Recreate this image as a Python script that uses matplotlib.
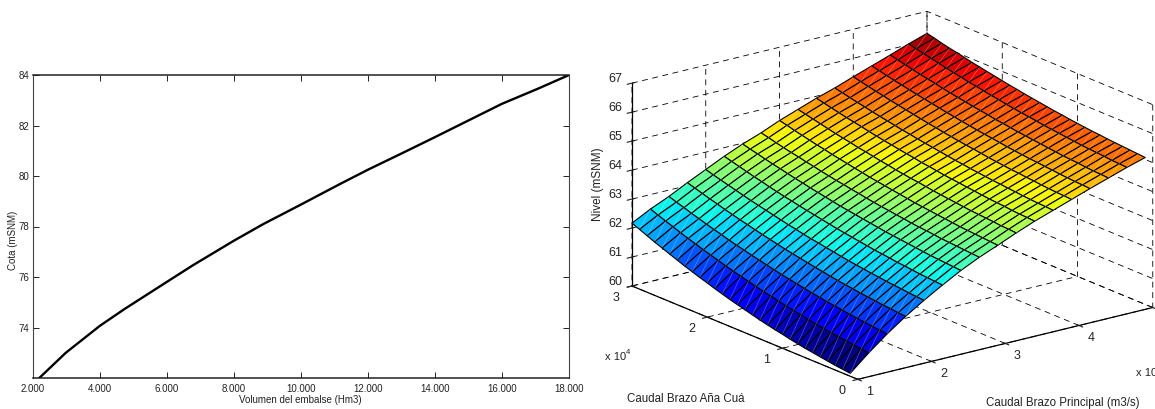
import numpy as np
import matplotlib
matplotlib.use("Agg")
import matplotlib.pyplot as plt
from mpl_toolkits.mplot3d import proj3d
from mpl_toolkits.mplot3d.art3d import Line3DCollection

# ---- left chart data
vol = [2180, 2980, 4000, 4730, 6000, 6780, 8000, 8880, 10000, 11160, 12000,
       13060, 14000, 14560, 16000, 17060, 18000]
cota = [71.99, 73.0, 74.07, 74.73, 75.81, 76.47, 77.44, 78.1, 78.87, 79.68, 80.25,
        80.93, 81.54, 81.91, 82.86, 83.45, 84.0]
vol_ticks = [2000, 4000, 6000, 8000, 10000, 12000, 14000, 16000, 18000]
vol_labels = ["2.000", "4.000", "6.000", "8.000", "10.000", "12.000", "14.000", "16.000", "18.000"]
cota_ticks = [74, 76, 78, 80, 82, 84]
cota_labels = ["74", "76", "78", "80", "82", "84"]

# ---- right chart data (one list per principal-branch flow, x 10^4 m3/s)
q_principal = [1.0, 1.25, 1.5, 1.75, 2.0, 2.25, 2.5, 2.75, 3.0, 3.25, 3.5, 3.75, 4.0, 4.25, 4.5, 4.75, 5.0]
q_anacua = [0.1, 0.2, 0.3, 0.4, 0.5, 0.6, 0.7, 0.8, 0.9, 1.0, 1.1, 1.2, 1.3, 1.4, 1.5,
            1.6, 1.7, 1.8, 1.9, 2.0, 2.1, 2.2, 2.3, 2.4, 2.5, 2.6, 2.7, 2.8, 2.9, 3.0]
z00 = [60.10,60.13,60.16,60.20,60.24,60.28,60.32,60.37,60.42,60.48,60.53,60.59,60.65,60.72,60.79,60.86,60.93,61.01,61.09,61.18,61.26,61.35,61.44,61.54,61.64,61.74,61.84,61.95,62.06,62.17]
z01 = [60.65,60.68,60.71,60.74,60.77,60.81,60.85,60.89,60.94,60.99,61.04,61.09,61.15,61.21,61.27,61.33,61.40,61.47,61.54,61.61,61.69,61.77,61.85,61.94,62.02,62.11,62.21,62.30,62.40,62.50]
z02 = [61.15,61.17,61.20,61.23,61.26,61.29,61.33,61.37,61.40,61.45,61.49,61.54,61.59,61.64,61.69,61.75,61.81,61.87,61.93,62.00,62.06,62.13,62.21,62.28,62.36,62.44,62.52,62.61,62.69,62.78]
z03 = [61.60,61.62,61.65,61.67,61.70,61.73,61.76,61.80,61.83,61.87,61.91,61.96,62.00,62.05,62.10,62.15,62.20,62.26,62.32,62.38,62.44,62.51,62.57,62.64,62.71,62.79,62.86,62.94,63.02,63.10]
z04 = [62.00,62.02,62.04,62.07,62.09,62.12,62.15,62.18,62.22,62.25,62.29,62.33,62.38,62.42,62.47,62.51,62.56,62.62,62.67,62.73,62.79,62.85,62.91,62.97,63.04,63.11,63.18,63.25,63.32,63.40]
z05 = [62.37,62.39,62.41,62.43,62.46,62.49,62.51,62.55,62.58,62.61,62.65,62.69,62.73,62.77,62.81,62.86,62.91,62.96,63.01,63.06,63.12,63.17,63.23,63.29,63.36,63.42,63.49,63.56,63.63,63.70]
z06 = [62.72,62.74,62.76,62.78,62.80,62.83,62.86,62.89,62.92,62.95,62.98,63.02,63.06,63.10,63.14,63.18,63.22,63.27,63.32,63.37,63.42,63.48,63.53,63.59,63.65,63.71,63.77,63.84,63.90,63.97]
z07 = [63.02,63.04,63.06,63.08,63.10,63.12,63.15,63.18,63.20,63.23,63.27,63.30,63.34,63.37,63.41,63.45,63.50,63.54,63.59,63.63,63.68,63.73,63.79,63.84,63.90,63.95,64.01,64.07,64.14,64.20]
z08 = [63.28,63.30,63.32,63.34,63.36,63.38,63.41,63.44,63.47,63.50,63.53,63.56,63.60,63.64,63.68,63.72,63.76,63.80,63.85,63.90,63.95,64.00,64.05,64.11,64.16,64.22,64.28,64.34,64.41,64.47]
z09 = [63.55,63.57,63.58,63.61,63.63,63.65,63.67,63.70,63.73,63.76,63.79,63.82,63.86,63.90,63.93,63.97,64.01,64.06,64.10,64.15,64.20,64.24,64.30,64.35,64.40,64.46,64.52,64.58,64.64,64.70]
z10 = [63.80,63.82,63.83,63.85,63.88,63.90,63.92,63.95,63.98,64.01,64.04,64.07,64.10,64.14,64.18,64.21,64.26,64.30,64.34,64.39,64.43,64.48,64.53,64.59,64.64,64.69,64.75,64.81,64.87,64.93]
z11 = [64.02,64.04,64.05,64.07,64.09,64.12,64.14,64.17,64.19,64.22,64.25,64.28,64.32,64.35,64.39,64.43,64.47,64.51,64.55,64.60,64.64,64.69,64.74,64.79,64.84,64.90,64.95,65.01,65.07,65.13]
z12 = [64.24,64.26,64.27,64.29,64.31,64.34,64.36,64.39,64.41,64.44,64.47,64.50,64.54,64.58,64.61,64.65,64.69,64.73,64.78,64.82,64.87,64.92,64.97,65.02,65.07,65.13,65.18,65.24,65.30,65.36]
z13 = [64.46,64.48,64.49,64.51,64.53,64.56,64.58,64.61,64.63,64.66,64.69,64.72,64.76,64.80,64.83,64.87,64.91,64.95,65.00,65.04,65.09,65.14,65.19,65.24,65.29,65.35,65.40,65.46,65.52,65.58]
z14 = [64.67,64.69,64.70,64.72,64.75,64.77,64.79,64.82,64.85,64.88,64.91,64.94,64.97,65.01,65.05,65.08,65.13,65.17,65.21,65.26,65.30,65.35,65.40,65.46,65.51,65.56,65.62,65.68,65.74,65.80]
z15 = [64.88,64.90,64.91,64.94,64.96,64.98,65.00,65.03,65.06,65.09,65.12,65.15,65.19,65.23,65.26,65.30,65.34,65.39,65.43,65.48,65.53,65.57,65.63,65.68,65.73,65.79,65.85,65.91,65.97,66.03]
z16 = [65.07,65.09,65.11,65.13,65.15,65.17,65.20,65.22,65.25,65.28,65.31,65.35,65.38,65.42,65.46,65.50,65.54,65.59,65.63,65.68,65.73,65.78,65.83,65.88,65.94,66.00,66.05,66.11,66.18,66.24]
nivel = [z00, z01, z02, z03, z04, z05, z06, z07, z08, z09, z10, z11, z12, z13, z14, z15, z16]
x_ticks = [1, 2, 3, 4, 5]
x_labels = ["1", "2", "3", "4", ""]
y_ticks = [0, 1, 2, 3]
y_labels = ["0", "1", "2", "3"]
z_ticks = [60, 61, 62, 63, 64, 65, 66, 67]
z_labels = ["60", "61", "62", "63", "64", "65", "66", "67"]

plt.rcParams["font.family"] = ["Liberation Sans", "DejaVu Sans"]
plt.rcParams["grid.color"] = "black"
plt.rcParams["grid.linestyle"] = (0, (7, 5.5))
plt.rcParams["grid.linewidth"] = 0.6

W, H = 1155, 409
fig = plt.figure(figsize=(W / 100, H / 100), dpi=100, facecolor="white")

# ---------------- left
axl = fig.add_axes([33 / W, 1 - 378 / H, 536 / W, 303 / H])
axl.plot(vol, cota, color="black", lw=1.7, solid_joinstyle="round")
axl.set_xlim(2000, 18000)
axl.set_ylim(72, 84)
axl.set_xticks(vol_ticks, vol_labels)
axl.set_yticks(cota_ticks, cota_labels)
axl.tick_params(direction="in", width=0.7, labelsize=7, top=True, right=True, color="#222222", labelcolor="#222222")
axl.tick_params(axis="x", length=4.6, pad=4.5)
axl.tick_params(axis="y", length=4.0, pad=2.5)
for s in ("top", "bottom"):
    axl.spines[s].set_linewidth(1.1)
    axl.spines[s].set_color("#222222")
for s in ("left", "right"):
    axl.spines[s].set_linewidth(0.8)
    axl.spines[s].set_color("#444444")
fig.text(300 / W, 1 - 400 / H, "Volumen del embalse (Hm3)", fontsize=7, ha="center", va="center", color="#222222")
fig.text(13 / W, 1 - 240 / H, "Cota (mSNM)", fontsize=7, rotation=90, ha="center", va="center", color="#222222")

# ---------------- right
S0 = 600.0
ax = fig.add_axes([300 / W, 0, S0 / W, S0 / H], projection="3d", computed_zorder=False)
ax.patch.set_alpha(0)
ax.set_proj_type("ortho")
ax.view_init(elev=18.5, azim=-127.5)
ax.set_box_aspect((372, 371, 214))
ax.set_xlim(1, 5)
ax.set_ylim(0, 3)
ax.set_zlim(60, 67)

X, Y = np.meshgrid(q_principal, q_anacua, indexing="ij")
Z = np.array(nivel)
jet = plt.get_cmap("jet", 64)
norm = plt.Normalize(Z.min(), Z.max())
ax.plot_surface(X, Y, Z, rstride=1, cstride=1, facecolors=jet(norm(Z)),
                edgecolor="black", linewidth=0.8, shade=False, antialiased=True, zorder=1)
seams = [[(X[i, j], Y[i, j], Z[i, j]), (X[i + 1, j + 1], Y[i + 1, j + 1], Z[i + 1, j + 1])]
         for i in range(Z.shape[0] - 1) for j in range(Z.shape[1] - 1)]
ax.add_collection3d(Line3DCollection(seams, colors="white", linewidths=0.35, alpha=0.45, zorder=2))

ax.set_xticks(x_ticks, x_labels)
ax.set_yticks(y_ticks, y_labels)
ax.set_zticks(z_ticks, z_labels)
ax.tick_params(axis="both", labelsize=9, colors="#222222")
ax.tick_params(axis="x", pad=3)
ax.tick_params(axis="y", pad=3)
ax.tick_params(axis="z", pad=1.5)
ax.grid(True)
for a in (ax.xaxis, ax.yaxis, ax.zaxis):
    a.set_pane_color((1, 1, 1, 0))
    a.pane.set_edgecolor((1, 1, 1, 0))
    a.line.set_color("black")
    a.line.set_linewidth(0.9)
    a._axinfo["tick"]["color"] = "black"
    a._axinfo["tick"]["linewidth"] = {True: 0.8, False: 0.5}
for t in list(ax.get_xticklabels()) + list(ax.get_yticklabels()):
    t.set_va("baseline")
for t in ax.get_zticklabels():
    t.set_va("baseline")
    t.set_ha("left")

def to_px(p):
    xs, ys, _ = proj3d.proj_transform(p[0], p[1], p[2], ax.get_proj())
    return ax.transData.transform((xs, ys))

fig.canvas.draw()
a_, b_ = to_px((1, 0, 60)), to_px((5, 0, 60))
S1 = S0 * 295.0 / (b_[0] - a_[0])
ax.set_position([300 / W, 0, S1 / W, S1 / H])
fig.canvas.draw()
cur = to_px((1, 3, 60))
cx = 300 + (632 - cur[0])
cy = (H - 286) - cur[1]
ax.set_position([cx / W, cy / H, S1 / W, S1 / H])

fig.text(598 / W, 1 - 184 / H, "Nivel (mSNM)", fontsize=8.5, rotation=90, ha="center", va="center", color="#222222")
fig.text(686 / W, 1 - 399 / H, "Caudal Brazo Aña Cuá", fontsize=8.3, ha="center", va="center", color="#222222")
fig.text(1063 / W, 1 - 403 / H, "Caudal Brazo Principal (m3/s)", fontsize=8.3, ha="center", va="center", color="#222222")
fig.text(605 / W, 1 - 357 / H, "x 10", fontsize=8, ha="left", va="center", color="#222222")
fig.text(626 / W, 1 - 352 / H, "4", fontsize=5.5, ha="left", va="center", color="#222222")
fig.text(1136 / W, 1 - 373 / H, "x 10", fontsize=8, ha="left", va="center", color="#222222")

fig.savefig("out.png", dpi=100)
